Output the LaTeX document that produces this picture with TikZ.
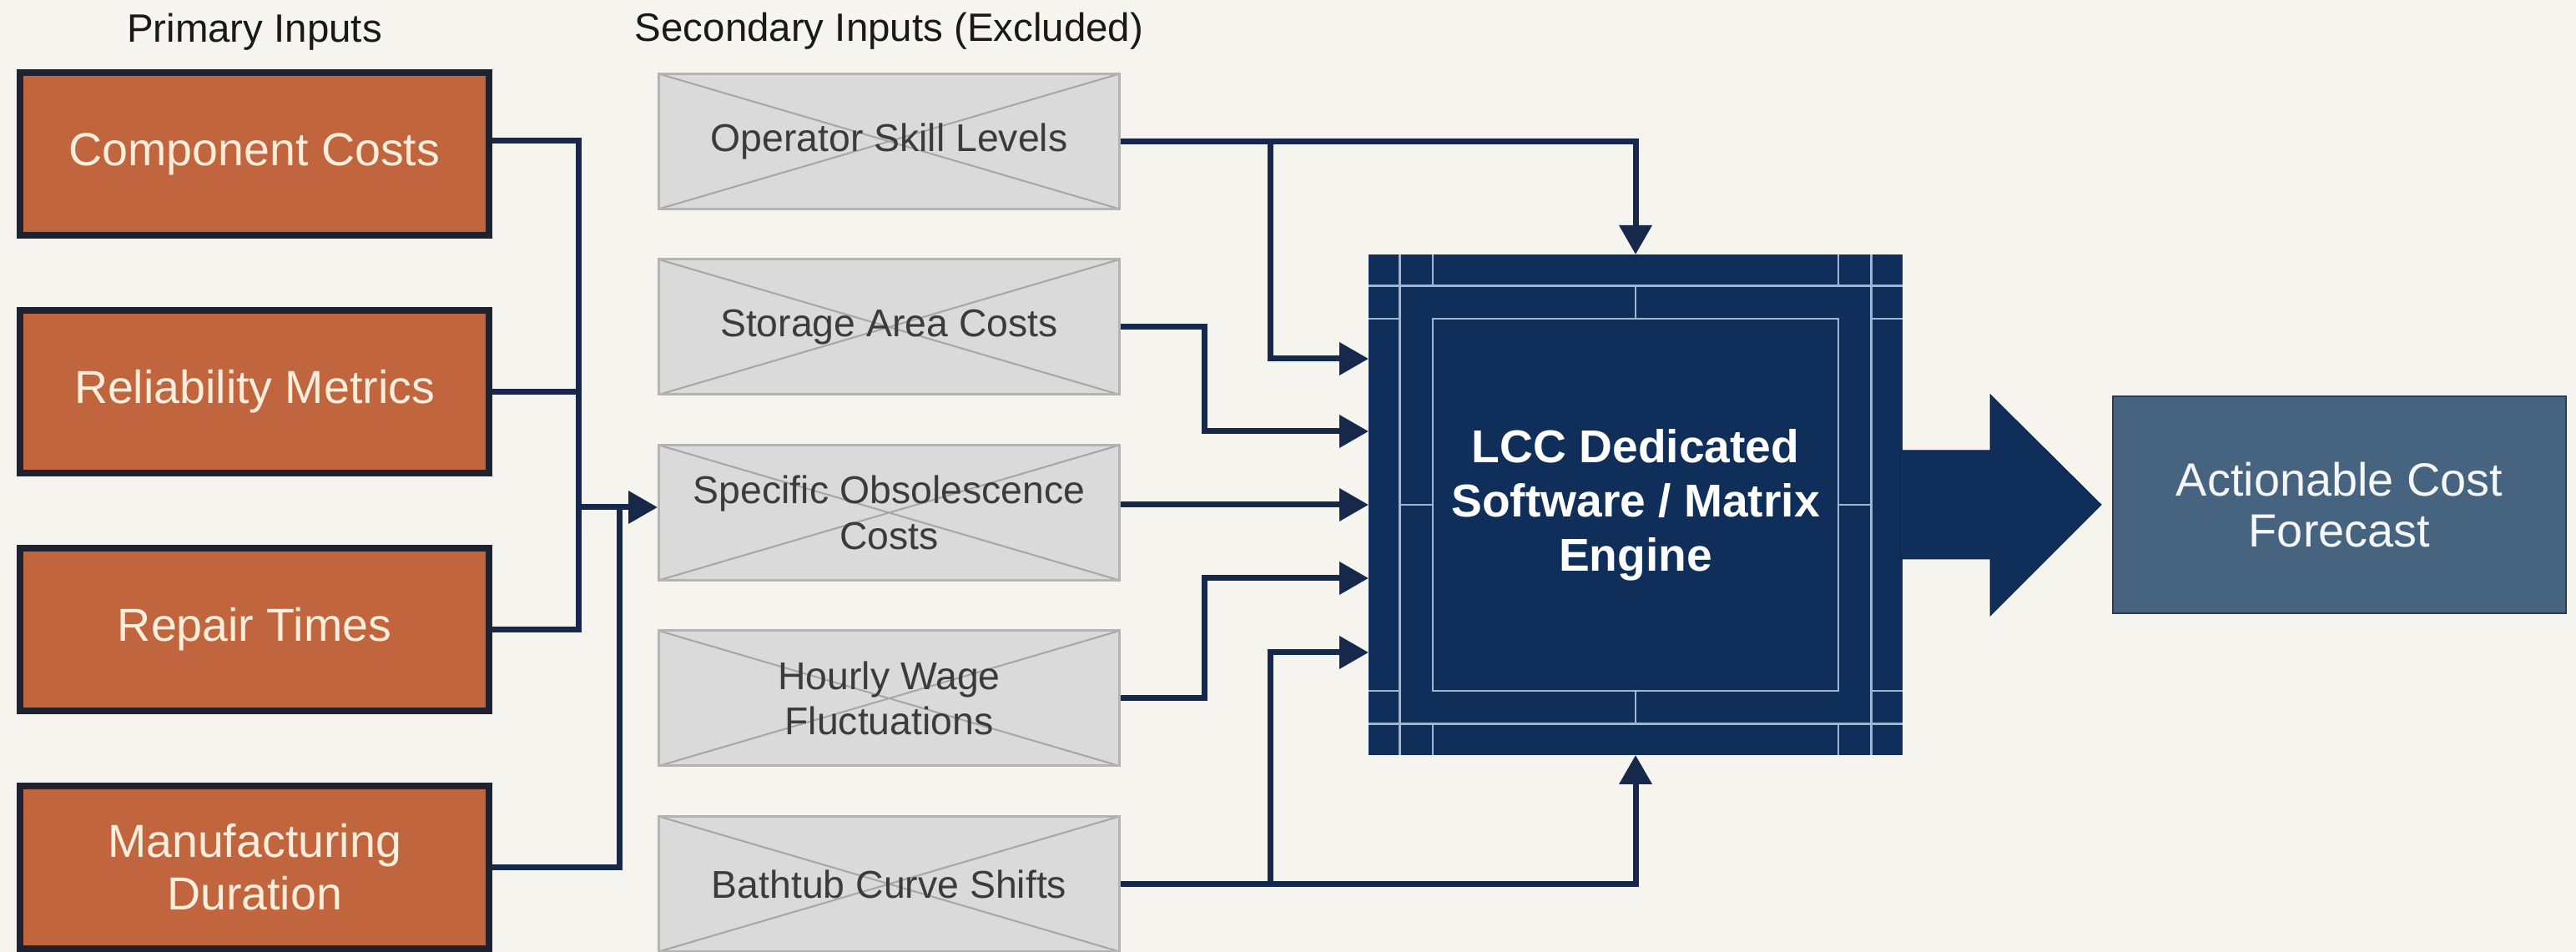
\documentclass[tikz,border=0pt]{standalone}
\usepackage{fontspec}
\setmainfont{Liberation Sans}
\usepackage{xcolor}
\usetikzlibrary{arrows.meta, positioning, calc}

\definecolor{paper}{HTML}{F5F4EF}
\definecolor{rust}{HTML}{C1653E}
\definecolor{rustedge}{HTML}{1F2330}
\definecolor{cream}{HTML}{FBEEDD}
\definecolor{greyfill}{HTML}{DADADA}
\definecolor{greyedge}{HTML}{B3B3B3}
\definecolor{crossline}{HTML}{A6A6A6}
\definecolor{greytext}{HTML}{3B3B3B}
\definecolor{navy}{HTML}{0F2E59}
\definecolor{wirecol}{HTML}{17294A}
\definecolor{gridcol}{HTML}{9FB6D3}
\definecolor{steel}{HTML}{466380}
\definecolor{steeledge}{HTML}{2B3D52}

\begin{document}
\begin{tikzpicture}[
    primary/.style={draw=rustedge, line width=0.08cm, fill=rust, text=cream, minimum width=5.62cm, minimum height=1.95cm, align=center, font=\fontsize{15.8}{18}\selectfont},
    excluded/.style={draw=greyedge, line width=0.03cm, fill=greyfill, text=greytext, minimum width=5.52cm, minimum height=1.62cm, align=center, font=\fontsize{13.2}{15.6}\selectfont,
        path picture={\draw[crossline, line width=0.02cm] (path picture bounding box.north west) -- (path picture bounding box.south east) (path picture bounding box.south west) -- (path picture bounding box.north east);}},
    heading/.style={text=black!90, font=\fontsize{13.5}{16}\selectfont, anchor=base},
    wire/.style={draw=wirecol, line width=0.07cm},
    arrow/.style={wire, -{Triangle[length=0.35cm, width=0.38cm]}},
    gridline/.style={draw=gridcol, line width=0.025cm}
]

\useasboundingbox (0,0) rectangle (30.87,11.41);
\fill[paper] (0,0) rectangle (30.87,11.41);

% Primary inputs
\node (cc) [primary] at (3.05,9.565) {Component Costs};
\node (rm) [primary, below=0.82cm of cc] {Reliability Metrics};
\node (rt) [primary, below=0.82cm of rm] {Repair Times};
\node (md) [primary, below=0.82cm of rt] {Manufacturing\\Duration};
\node [heading] (hprim) at ($(cc.north)+(0,0.32)$) {Primary Inputs};

% Secondary inputs (excluded)
\node (os) [excluded] at (10.655,9.715) {Operator Skill Levels};
\node (sa) [excluded, below=0.575cm of os] {Storage Area Costs};
\node (so) [excluded, below=0.575cm of sa] {Specific Obsolescence\\Costs};
\node (hw) [excluded, below=0.575cm of so] {Hourly Wage\\Fluctuations};
\node (bc) [excluded, below=0.575cm of hw] {Bathtub Curve Shifts};
\node [heading] (hsec) at ($(os.north)+(0,0.37)$) {Secondary Inputs (Excluded)};

% Engine
\node (eng) [fill=navy, minimum width=6.4cm, minimum height=6.0cm, outer sep=0pt, text=white, align=center, font=\bfseries\fontsize{15.7}{18.5}\selectfont] at (19.6,5.36) {LCC Dedicated\\Software / Matrix\\Engine};

% Engine frame lines
\draw[gridline] ([xshift=0.375cm]eng.north west) -- ([xshift=0.375cm]eng.south west);
\draw[gridline] ([xshift=-0.375cm]eng.north east) -- ([xshift=-0.375cm]eng.south east);
\draw[gridline] ([yshift=-0.375cm]eng.north west) -- ([yshift=-0.375cm]eng.north east);
\draw[gridline] ([yshift=0.375cm]eng.south west) -- ([yshift=0.375cm]eng.south east);
\draw[gridline] ([shift={(0.77,-0.77)}]eng.north west) rectangle ([shift={(-0.77,0.77)}]eng.south east);
\draw[gridline] ([xshift=0.77cm]eng.north west) -- ++(0,-0.375);
\draw[gridline] ([xshift=-0.77cm]eng.north east) -- ++(0,-0.375);
\draw[gridline] ([xshift=0.77cm]eng.south west) -- ++(0,0.375);
\draw[gridline] ([xshift=-0.77cm]eng.south east) -- ++(0,0.375);
\draw[gridline] ([yshift=-0.77cm]eng.north west) -- ++(0.375,0);
\draw[gridline] ([yshift=-0.77cm]eng.north east) -- ++(-0.375,0);
\draw[gridline] ([yshift=0.77cm]eng.south west) -- ++(0.375,0);
\draw[gridline] ([yshift=0.77cm]eng.south east) -- ++(-0.375,0);
\draw[gridline] ([yshift=-0.375cm]eng.north) -- ++(0,-0.395);
\draw[gridline] ([yshift=0.375cm]eng.south) -- ++(0,0.395);
\draw[gridline] ([xshift=0.375cm]eng.west) -- ++(0.395,0);
\draw[gridline] ([xshift=-0.375cm]eng.east) -- ++(-0.395,0);

% Output
\node (out) [fill=steel, draw=steeledge, line width=0.02cm, minimum width=5.43cm, minimum height=2.6cm, text=white!94!steel, align=center, font=\fontsize{15.9}{17.4}\selectfont, right=2.51cm of eng] {Actionable Cost\\Forecast};

% Block arrow
\filldraw[fill=navy, draw=navy!80!black, line width=0.01cm] ($(eng.east)+(-0.03,0.65)$) -- ($(out.west)+(-1.46,0.65)$) -- ($(out.west)+(-1.46,1.32)$) -- ($(out.west)+(-0.13,0)$) -- ($(out.west)+(-1.46,-1.33)$) -- ($(out.west)+(-1.46,-0.65)$) -- ($(eng.east)+(-0.03,-0.65)$) -- cycle;

% Bus coordinates
\coordinate (pj) at (6.93,5.33);
\coordinate (pj2) at (7.42,5.33);
\coordinate (railM) at (14.43,0);
\coordinate (railL) at (15.22,0);

% Primary wiring
\draw[wire] ([yshift=0.16cm]cc.east) -| (pj);
\draw[wire] (rm.east) -| (pj);
\draw[wire] (rt.east) -| (pj);
\draw[wire] (md.east) -| (pj2);
\draw[arrow] (pj) -- (pj -| so.west);

% Secondary wiring
\draw[arrow] (os.east) -| (eng.north);
\draw[arrow] (os.east -| railL) |- ([yshift=1.75cm]eng.west);
\draw[arrow] (sa.east) -- (sa.east -| railM) |- ([yshift=0.88cm]eng.west);
\draw[arrow] (eng.west -| so.east) -- (eng.west);
\draw[arrow] (hw.east) -- (hw.east -| railM) |- ([yshift=-0.88cm]eng.west);
\draw[arrow] (bc.east -| railL) |- ([yshift=-1.77cm]eng.west);
\draw[arrow] (bc.east) -| (eng.south);

\end{tikzpicture}
\end{document}
